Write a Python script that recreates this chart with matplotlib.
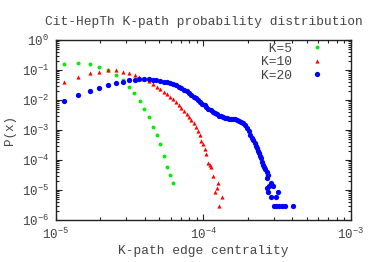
import numpy as np
import matplotlib
matplotlib.use("Agg")
import matplotlib.pyplot as plt
from matplotlib.ticker import LogLocator, FuncFormatter, NullFormatter

plt.rcParams['font.family'] = ['Liberation Mono', 'DejaVu Sans Mono']
plt.rcParams['mathtext.fontset'] = 'custom'
plt.rcParams['mathtext.rm'] = 'Liberation Mono'
plt.rcParams['mathtext.it'] = 'Liberation Mono'
plt.rcParams['font.size'] = 9

# K=5
x_k5 = [1.128e-5, 1.411e-5, 1.696e-5, 1.971e-5, 2.269e-5, 2.560e-5, 2.825e-5,
        3.102e-5, 3.39e-5, 3.69e-5, 3.97e-5, 4.25e-5, 4.52e-5, 4.81e-5,
        5.10e-5, 5.37e-5, 5.66e-5, 5.94e-5, 6.22e-5]
p_k5 = [0.155, 0.171, 0.158, 0.129, 0.100, 0.0697, 0.0464, 0.0277, 0.0167,
        0.00926, 0.00513, 0.00265, 0.00129, 6.97e-4, 3.34e-4, 1.33e-4,
        5.71e-5, 3.16e-5, 1.71e-5]

# K=10
x_k10 = [1.128e-5, 1.411e-5, 1.696e-5, 1.971e-5, 2.269e-5, 2.560e-5, 2.825e-5,
         3.102e-5, 3.409e-5, 3.669e-5, 3.969e-5, 4.245e-5, 4.519e-5, 4.811e-5,
         5.098e-5, 5.368e-5, 5.662e-5, 5.934e-5, 6.219e-5, 6.508e-5, 6.792e-5,
         7.084e-5, 7.391e-5, 7.698e-5, 7.993e-5, 8.287e-5, 8.590e-5, 8.89e-5,
         9.18e-5, 9.42e-5, 9.65e-5, 9.89e-5, 1.020e-4, 1.048e-4, 1.076e-4,
         1.104e-4, 1.133e-4, 1.164e-4, 1.193e-4, 1.226e-4, 1.251e-4, 1.279e-4,
         1.332e-4]
p_k10 = [0.0407, 0.0598, 0.0776, 0.0878, 0.0977, 0.0970, 0.0878, 0.0794,
         0.0708, 0.0607, 0.0501, 0.0420, 0.0341, 0.0277, 0.0227, 0.0185,
         0.0153, 0.0126, 0.0104, 0.00858, 0.00697, 0.00554, 0.00440, 0.00349,
         0.00278, 0.00215, 0.00167, 0.00126, 9.62e-4, 6.81e-4, 4.40e-4,
         3.34e-4, 2.27e-4, 1.55e-4, 8.13e-5, 6.66e-5, 5.71e-5, 3.0e-5,
         8.58e-6, 1.14e-5, 1.75e-5, 2.86e-6, 5.71e-6]

# K=20
x_k20 = [1.128e-5, 1.411e-5, 1.696e-5, 1.971e-5, 2.269e-5, 2.560e-5, 2.825e-5,
         3.102e-5, 3.409e-5, 3.669e-5, 3.969e-5, 4.245e-5, 4.519e-5, 4.789e-5,
         5.098e-5, 5.368e-5, 5.662e-5, 5.934e-5, 6.219e-5, 6.518e-5, 6.792e-5,
         7.084e-5, 7.391e-5, 7.698e-5, 7.993e-5, 8.287e-5, 8.590e-5, 8.918e-5,
         9.201e-5, 9.541e-5, 9.845e-5, 1.016e-4, 1.048e-4, 1.081e-4, 1.116e-4,
         1.151e-4, 1.188e-4, 1.226e-4, 1.265e-4, 1.305e-4, 1.346e-4, 1.389e-4,
         1.434e-4, 1.479e-4, 1.526e-4, 1.575e-4, 1.625e-4, 1.677e-4, 1.730e-4,
         1.785e-4, 1.842e-4, 1.901e-4, 1.961e-4, 2.023e-4, 2.071e-4, 2.121e-4,
         2.171e-4, 2.223e-4, 2.258e-4, 2.293e-4, 2.330e-4, 2.366e-4, 2.404e-4,
         2.442e-4, 2.480e-4, 2.519e-4, 2.571e-4, 2.628e-4, 2.683e-4, 2.738e-4,
         2.712e-4, 2.781e-4, 2.869e-4, 2.946e-4, 2.700e-4, 2.738e-4, 3.202e-4,
         2.856e-4, 3.089e-4, 3.007e-4, 3.124e-4, 3.252e-4, 3.393e-4, 3.556e-4,
         4.051e-4]
p_k20 = [9.26e-3, 0.01435, 0.0195, 0.0257, 0.0316, 0.0369, 0.0407, 0.0454,
         0.0475, 0.0490, 0.0490, 0.0483, 0.0475, 0.0454, 0.0430, 0.0407,
         0.0389, 0.0360, 0.0341, 0.0309, 0.0277, 0.0251, 0.0220, 0.0195,
         0.0171, 0.0150, 0.0129, 0.0114, 0.00977, 0.00858, 0.00753, 0.00656,
         0.00585, 0.00513, 0.00454, 0.00407, 0.00369, 0.00334, 0.00304,
         0.00282, 0.00265, 0.00251, 0.00242, 0.00236, 0.00233, 0.00229,
         0.00224, 0.00215, 0.00204, 0.00189, 0.00167, 0.00144, 0.00117,
         9.05e-4, 7.08e-4, 5.62e-4, 4.47e-4, 3.55e-4, 2.93e-4, 2.42e-4,
         2.07e-4, 1.71e-4, 1.41e-4, 1.14e-4, 8.58e-5, 6.81e-5, 5.98e-5,
         4.90e-5, 4.07e-5, 3.16e-5, 2.54e-5, 1.41e-5, 1.69e-5, 1.41e-5,
         1.128e-5, 8.46e-6, 8.46e-6, 5.64e-6, 5.64e-6, 2.82e-6, 2.82e-6,
         2.82e-6, 2.82e-6, 2.82e-6, 2.82e-6]

fig = plt.figure(figsize=(3.74, 2.62), dpi=100)
ax = fig.add_axes([0.1497, 0.1603, 0.7888, 0.687])

# leading space keeps the monospace labels right-aligned like gnuplot's key
ax.plot(x_k5, p_k5, 'o', color='#00ee00', ms=2.8, mew=0, label=' K=5')
ax.plot(x_k10, p_k10, '^', color='#ff0000', ms=3.0, mew=0, label='K=10')
ax.plot(x_k20, p_k20, 'o', color='#0000ff', ms=3.8, mew=0, label='K=20')

ax.set_xscale('log')
ax.set_yscale('log')
ax.set_xlim(1e-5, 1e-3)
ax.set_ylim(1e-6, 1)

def fmt(v, pos):
    e = int(round(np.log10(v)))
    return r'$\mathregular{10^{%d}}$' % e

ax.xaxis.set_major_locator(LogLocator(base=10, numticks=10))
ax.yaxis.set_major_locator(LogLocator(base=10, numticks=10))
ax.xaxis.set_minor_locator(LogLocator(base=10, subs=np.arange(2, 10), numticks=20))
ax.yaxis.set_minor_locator(LogLocator(base=10, subs=np.arange(2, 10), numticks=20))
ax.xaxis.set_major_formatter(FuncFormatter(fmt))
ax.yaxis.set_major_formatter(FuncFormatter(fmt))
ax.xaxis.set_minor_formatter(NullFormatter())
ax.yaxis.set_minor_formatter(NullFormatter())

txt = '#444444'
ax.tick_params(which='both', direction='in', top=True, right=True,
               labelsize=9, labelcolor=txt, color='#222222', width=0.8)
ax.tick_params(which='major', length=4.5, pad=5)
ax.tick_params(which='minor', length=2.2)
ax.tick_params(axis='x', pad=5)
for s in ax.spines.values():
    s.set_linewidth(1.0)
    s.set_color('#222222')

ax.set_title('Cit-HepTh K-path probability distribution', fontsize=9.3,
             color=txt, pad=11)
ax.set_xlabel('K-path edge centrality', fontsize=9.3, color=txt, labelpad=2)
ax.set_ylabel('P(x)', fontsize=9, color=txt, labelpad=4)

leg = ax.legend(loc='upper right', bbox_to_anchor=(0.94, 1.035),
                frameon=False, markerfirst=False,
                fontsize=9.3, handletextpad=1.3, labelspacing=0.12,
                borderaxespad=0.3, handlelength=1.2, markerscale=1.0)
for t in leg.get_texts():
    t.set_color(txt)

fig.savefig('out.png', dpi=100)
